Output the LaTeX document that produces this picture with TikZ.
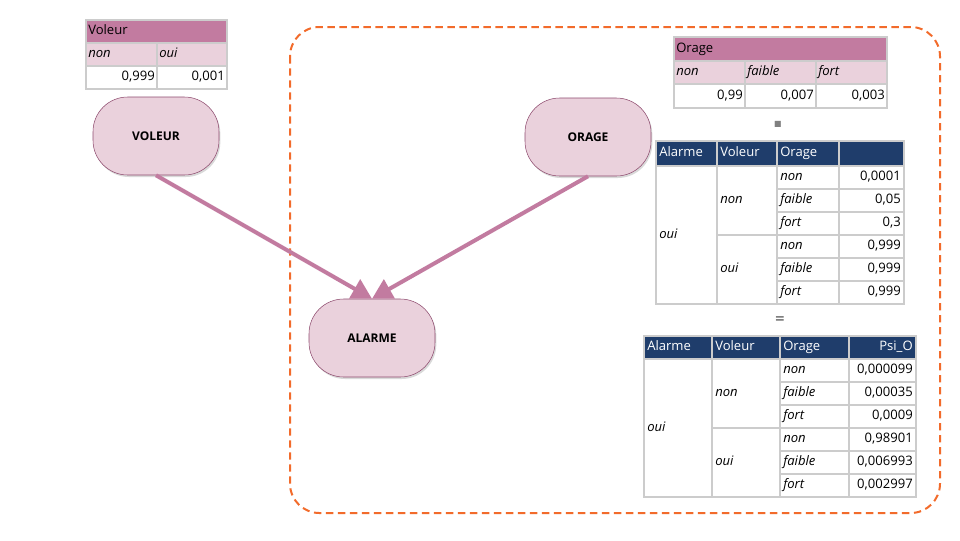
\documentclass[tikz,border=0pt]{standalone}
\usepackage{fontspec}
\setmainfont{Open Sans}
\newfontfamily\symfont{DejaVu Sans}
\usetikzlibrary{shadows, arrows.meta, positioning, calc}
\definecolor{rosefonce}{HTML}{C27BA0}
\definecolor{roseclair}{HTML}{EAD1DC}
\definecolor{bordrose}{HTML}{8E4B6E}
\definecolor{bleunuit}{HTML}{1F3D6B}
\definecolor{grille}{HTML}{CCCCCC}
\definecolor{orangeb}{HTML}{F26B2B}
\tikzset{
  noeud/.style={draw=bordrose, fill=roseclair, rounded corners=26pt, minimum width=94.5pt, minimum height=58.5pt,
    font=\fontsize{9}{11}\selectfont\bfseries, drop shadow={opacity=0.3, shadow xshift=1pt, shadow yshift=-1.5pt}},
  lien/.style={draw=rosefonce, line width=3pt, -{Triangle[length=15pt,width=16pt]}},
  cellw/.style={inner sep=0pt, anchor=west, text height=7pt, text depth=2pt, font=\fontsize{9.8}{11}\selectfont},
  celle/.style={inner sep=0pt, anchor=east, text height=7pt, text depth=2pt, font=\fontsize{9.8}{11}\selectfont},
  ital/.style={cellw, font=\fontsize{9.8}{11}\selectfont\itshape},
  trait/.style={draw=grille, line width=0.8pt},
}
\begin{document}
\begin{tikzpicture}[x=0.75pt,y=-0.75pt]
\useasboundingbox (0,0) rectangle (960,540);
% Cadre pointille
\draw[orangeb, line width=1.5pt, dash pattern=on 5.5pt off 3.5pt, rounded corners=22pt] (290,27) rectangle (940,513);
% Noeuds du reseau
\node[noeud] (voleur) at (156,136) {VOLEUR};
\node[noeud] (orage) at (588,137) {ORAGE};
\node[noeud] (alarme) at (372,338) {ALARME};
\draw[lien] (voleur.south) -- (alarme.north);
\draw[lien] (orage.south) -- (alarme.north);
% Table Voleur
\fill[rosefonce] (86,20) rectangle (227,43);
\fill[roseclair] (86,43) rectangle (227,66);
\draw[trait] (86,20) rectangle (227,89) (86,43) -- (227,43) (86,66) -- (227,66) (157,43) -- (157,89);
\node[cellw] (tv_titre) at (88,31.5) {Voleur};
\node[ital] (tv_non) at (88,54.5) {non};
\node[ital] (tv_oui) at (159,54.5) {oui};
\node[celle] (tv_p1) at (155,77.5) {0,999};
\node[celle] (tv_p2) at (225,77.5) {0,001};
% Table Orage
\fill[rosefonce] (674,37) rectangle (887,61);
\fill[roseclair] (674,61) rectangle (887,84);
\draw[trait] (674,37) rectangle (887,108) (674,61) -- (887,61) (674,84) -- (887,84) (745,61) -- (745,108) (816,61) -- (816,108);
\node[cellw] (to_titre) at (676,49) {Orage};
\node[ital] (to_non) at (676,72.5) {non};
\node[ital] (to_faible) at (747,72.5) {faible};
\node[ital] (to_fort) at (818,72.5) {fort};
\node[celle] (to_p1) at (743,96) {0,99};
\node[celle] (to_p2) at (814,96) {0,007};
\node[celle] (to_p3) at (885,96) {0,003};
% Produit
\node[inner sep=0pt, text=gray, font=\symfont\fontsize{6}{6}\selectfont] (fois) at (778,124) {■};
% Table Alarme sachant Voleur, Orage
\fill[bleunuit] (656,141) rectangle (904,166);
\draw[trait] (656,141) rectangle (904,304) (656,166) -- (904,166) (717,141) -- (717,304) (777,141) -- (777,304) (839,141) -- (839,304) (717,235) -- (904,235);
\foreach \i in {1,2,4,5} \draw[trait] (777,166+23*\i) -- (904,166+23*\i);
\node[cellw, text=white] (t2_a) at (659,153.5) {Alarme};
\node[cellw, text=white] (t2_v) at (720,153.5) {Voleur};
\node[cellw, text=white] (t2_o) at (780,153.5) {Orage};
\node[ital] (t2_oui) at (659,235) {oui};
\node[ital] (t2_vnon) at (720,200.5) {non};
\node[ital] (t2_voui) at (720,269.5) {oui};
\foreach \v [count=\i from 0] in {non,faible,fort,non,faible,fort}
  \node[ital] (t2_o\i) at (780,177.5+23*\i) {\v};
\foreach \p [count=\i from 0] in {{0,0001},{0,05},{0,3},{0,999},{0,999},{0,999}}
  \node[celle] (t2_p\i) at (901,177.5+23*\i) {\p};
% Egal
\node[inner sep=0pt, text=gray, font=\bfseries\fontsize{12}{12}\selectfont] (egal) at (780,320) {=};
% Table Psi_O
\fill[bleunuit] (644,336) rectangle (916,359);
\draw[trait] (644,336) rectangle (916,497) (644,359) -- (916,359) (712,336) -- (712,497) (780,336) -- (780,497) (849,336) -- (849,497) (712,428) -- (916,428);
\foreach \i in {1,2,4,5} \draw[trait] (780,359+23*\i) -- (916,359+23*\i);
\node[cellw, text=white] (t3_a) at (647,347.5) {Alarme};
\node[cellw, text=white] (t3_v) at (715,347.5) {Voleur};
\node[cellw, text=white] (t3_o) at (783,347.5) {Orage};
\node[celle, text=white] (t3_psi) at (913,347.5) {Psi\_O};
\node[ital] (t3_oui) at (647,428) {oui};
\node[ital] (t3_vnon) at (715,393.5) {non};
\node[ital] (t3_voui) at (715,462.5) {oui};
\foreach \v [count=\i from 0] in {non,faible,fort,non,faible,fort}
  \node[ital] (t3_o\i) at (783,370.5+23*\i) {\v};
\foreach \p [count=\i from 0] in {{0,000099},{0,00035},{0,0009},{0,98901},{0,006993},{0,002997}}
  \node[celle] (t3_p\i) at (913,370.5+23*\i) {\p};
\end{tikzpicture}
\end{document}
